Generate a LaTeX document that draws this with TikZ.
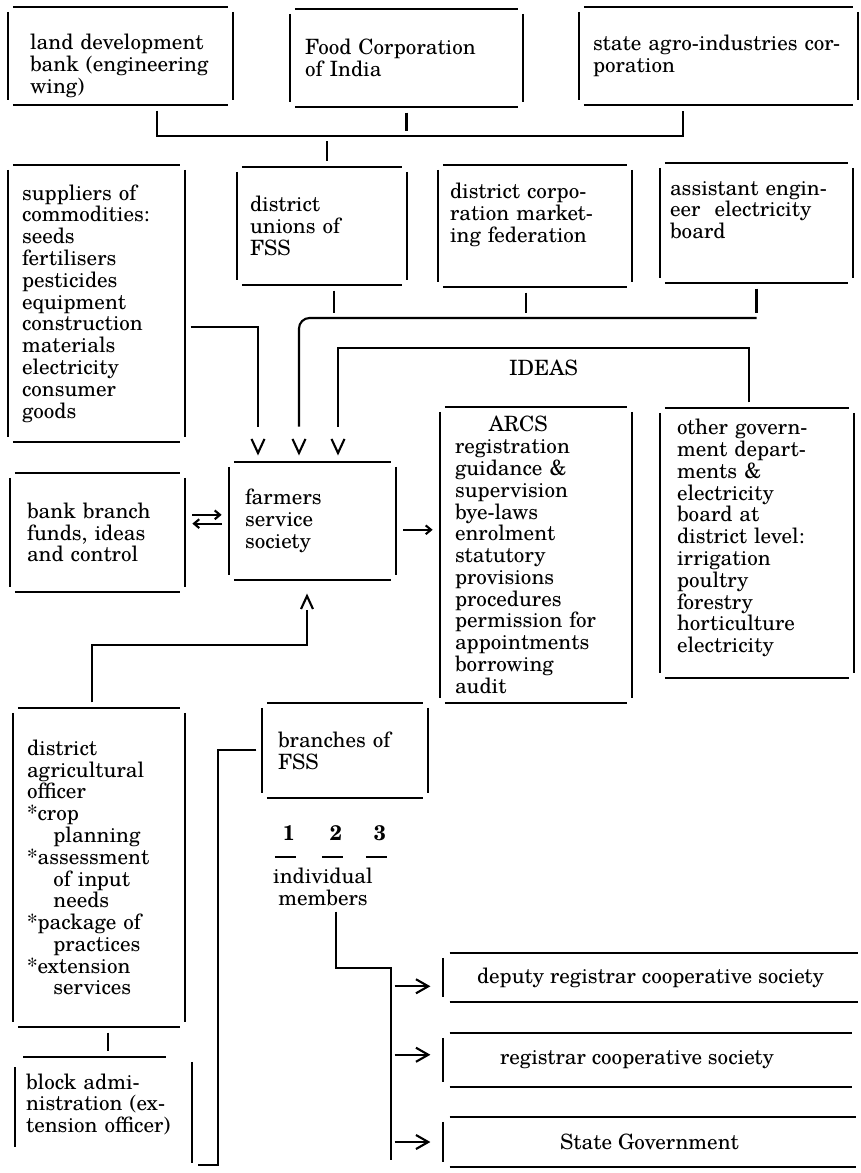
\documentclass[tikz,border=0pt]{standalone}
\usepackage{fontspec}
\setmainfont{texgyreschola}[Extension=.otf, UprightFont=*-regular, BoldFont=*-bold, ItalicFont=*-italic, BoldItalicFont=*-bolditalic]
\usepackage{tikz}
\usetikzlibrary{arrows.meta,positioning}
\hyphenpenalty=10000
\exhyphenpenalty=10000
\newcommand{\boxfont}{\fontsize{12}{12.4}\selectfont}
% four sides of a box, the corners left open
\newcommand{\boxsides}[1]{%
  \draw[heavy] ([xshift=3pt]#1.north west) -- ([xshift=-3pt]#1.north east);
  \draw[heavy] ([xshift=3pt]#1.south west) -- ([xshift=-3pt]#1.south east);
  \draw[heavy] ([yshift=-3pt]#1.north west) -- ([yshift=3pt]#1.south west);
  \draw[heavy] ([yshift=-3pt]#1.north east) -- ([yshift=3pt]#1.south east);}
\newcommand{\openright}[1]{%
  \draw[heavy] ([xshift=4pt]#1.north west) -- (#1.north east);
  \draw[heavy] ([xshift=4pt]#1.south west) -- (#1.south east);
  \draw[heavy] ([yshift=-3pt]#1.north west) -- ([yshift=3pt]#1.south west);}

\begin{document}
\begin{tikzpicture}[x=0.02cm, y=-0.02cm,
  heavy/.style={line width=1.2pt},
  link/.style={heavy, shorten <=3pt, shorten >=3pt},
  arrowln/.style={heavy, shorten <=2pt, shorten >=7pt, -{Straight Barb[length=7pt,width=8pt]}},
  sarrow/.style={heavy, shorten <=4pt, shorten >=4pt, -{Straight Barb[length=3pt,width=5pt]}},
  box/.style={inner sep=0pt, align=left, font=\boxfont},
  cbox/.style={inner sep=0pt, align=center, font=\boxfont},
  num/.style={inner sep=0pt, anchor=base, font=\boxfont\bfseries}]
\useasboundingbox (0,0) rectangle (860,1173);

% top row
\node[box, minimum width=4.5cm, minimum height=1.96cm, text width=3.62cm] (landbank) at (120.5,56) {\rule{0pt}{20pt}land development\\bank (engineering\\wing)};
\node[box, minimum width=4.66cm, minimum height=1.96cm, text width=4.06cm] (food) at (406.5,58) {Food Corporation\\of India};
\node[box, minimum width=5.58cm, minimum height=1.96cm, text width=5.02cm] (state) at (718.5,56) {state agro-industries cor-\\poration};

% second row
\node[box, minimum width=3.54cm, minimum height=5.54cm, text width=2.98cm] (suppliers) at (96.5,303.5) {suppliers of\\commodities:\\seeds\\fertilisers\\pesticides\\equipment\\construction\\materials\\electricity\\consumer\\goods};
\node[box, minimum width=3.4cm, minimum height=2.36cm, text width=2.88cm] (unions) at (322,226) {district\\unions of\\FSS};
\node[box, minimum width=3.88cm, minimum height=2.44cm, text width=3.4cm] (market) at (535,226) {district corpo-\\ration market-\\ing federation\rule[-15pt]{0pt}{15pt}};
\node[box, minimum width=3.86cm, minimum height=2.4cm, text width=3.46cm] (engineer) at (756.5,223) {assistant engin-\\eer \ electricity\\board\rule[-15pt]{0pt}{15pt}};

% middle row
\node[box, minimum width=3.5cm, minimum height=2.38cm, text width=2.82cm] (bank) at (97.5,532.5) {bank branch\\funds, ideas\\and control};
\node[box, minimum width=3.34cm, minimum height=2.36cm, text width=2.7cm] (farmers) at (312.5,521) {farmers\\service\\society};
\node[box, minimum width=3.84cm, minimum height=5.92cm, text width=3.24cm] (arcs) at (536,555) {\hspace*{1.6em}ARCS\\registration\\guidance \&\\supervision\\bye-laws\\enrolment\\statutory\\provisions\\procedures\\permission for\\appointments\\borrowing\\audit};
\node[box, minimum width=3.88cm, minimum height=5.4cm, text width=3.2cm] (govt) at (757,543) {other govern-\\ment depart-\\ments \&\\electricity\\board at\\district level:\\irrigation\\poultry\\forestry\\horticulture\\electricity\rule[-8pt]{0pt}{8pt}};

% lower part
\node[box, minimum width=3.32cm, minimum height=1.9cm, text width=2.68cm] (branches) at (345,750.5) {branches of\\FSS};
\node[box, minimum width=3.44cm, minimum height=6.38cm, text width=2.88cm] (agri) at (99,867.5) {district\\agricultural\\officer\\{}*crop\\\hspace*{1.25em}planning\\{}*assessment\\\hspace*{1.25em}of input\\\hspace*{1.25em}needs\\{}*package of\\\hspace*{1.25em}practices\\{}*extension\\\hspace*{1.25em}services};
\node[box, minimum width=3.54cm, minimum height=1.9cm, text width=3.1cm] (block) at (103.5,1104.5) {block admi-\\nistration (ex-\\tension officer)};
\node[num] (one) at (289,840) {1};
\node[num] (two) at (336,840) {2};
\node[num] (three) at (380,840) {3};
\node[cbox, anchor=north] (members) at (323,868) {individual\\members};
\node[cbox, minimum width=8.3cm, minimum height=0.98cm] (deputy) at (650.5,977.5) {deputy registrar cooperative society};
\node[cbox, minimum width=8.18cm, minimum height=1.08cm] (registrar) at (647.5,1060) {registrar cooperative society\hspace*{1em}};
\node[cbox, minimum width=8.26cm, minimum height=1cm] (stategov) at (649.5,1142) {State Government};

% frames
\foreach \b in {landbank,food,state,suppliers,unions,market,engineer,bank,farmers,arcs,govt,branches,agri}
  \boxsides{\b};
\foreach \b in {deputy,registrar,stategov}
  \openright{\b};
\draw[heavy] ([xshift=5pt]block.north west) -- ([xshift=-15pt]block.north east);
\draw[heavy] ([yshift=-6pt]block.north west) -- ([yshift=3pt]block.south west);
\draw[heavy] ([yshift=-3pt]block.north east) -- ([yshift=-6pt]block.south east);
\foreach \n in {one,two,three}
  \draw[heavy] ([shift={(-8pt,-9.6pt)}]\n.base) -- ([shift={(4pt,-9.6pt)}]\n.base);

% junction points
\coordinate (topbusW) at (157,136);
\coordinate (topbusE) at (683,136);
\coordinate (midbus) at (0,318);
\coordinate (supjoin) at (258,327);
\coordinate (ideasR) at (749,348);
\coordinate (ideasL) at (338,348);
\coordinate (vA) at (258,432);
\coordinate (vB) at (299,432);
\coordinate (vC) at (338,432);
\coordinate (tipA) at (258,453);
\coordinate (tipB) at (299,453);
\coordinate (tipC) at (338,453);
\coordinate (tipU) at (307,596);
\coordinate (upend) at (307,610);
\coordinate (agrijoin) at (92,645);
\coordinate (spineT) at (218,750);
\coordinate (spineB) at (218,1165);
\coordinate (memjoin) at (336,968);
\coordinate (fanT) at (391,968);
\coordinate (fanB) at (391,1165);

% top bus
\draw[link] (topbusW |- landbank.south) -- (topbusW) -- (topbusE) -- (topbusE |- state.south);
\draw[link] (food.south) -- (food.south |- topbusW);
\draw[link] ([xshift=3pt]unions.north |- topbusW) -- ([xshift=3pt]unions.north);

% into the farmers service society
\draw[link] (supjoin -| suppliers.east) -- (supjoin) -- (vA);
\draw[link] (engineer.south) -- (engineer.south |- midbus);
\draw[link] ([xshift=-5pt]market.south) -- ([xshift=-5pt]market.south |- midbus);
\draw[link] ([xshift=7pt]unions.south) -- ([xshift=7pt]unions.south |- midbus);
\draw[heavy, rounded corners=6pt, shorten >=3pt] (engineer.south |- midbus) -- (vB |- midbus) -- (vB);
\draw[link] (govt.north -| ideasR) -- (ideasR) -- node[box, below=6pt] (ideas) {IDEAS} (ideasL) -- (vC);
\foreach \t in {tipA,tipB,tipC}
  \draw[heavy] (\t) ++(-3.7pt,8pt) -- ++(3.7pt,-8pt) -- ++(3.7pt,8pt);

% sideways
\draw[sarrow] ([yshift=3.5pt]farmers.west -| bank.east) -- ([yshift=3.5pt]farmers.west);
\draw[sarrow] ([yshift=-1.5pt]farmers.west) -- ([yshift=-1.5pt]farmers.west -| bank.east);
\draw[sarrow] ([yshift=-5pt]farmers.east) -- ([yshift=-5pt]farmers.east -| arcs.west);

% from below
\draw[link, shorten >=0pt] (agri.north -| agrijoin) -- (agrijoin) -- (agrijoin -| upend) -- (upend);
\draw[heavy] (tipU) ++(-3.4pt,-7.4pt) -- ++(3.4pt,7.4pt) -- ++(3.4pt,-7.4pt);
\draw[link] ([xshift=5pt]agri.south) -- ([xshift=5pt]agri.south |- block.north);
\draw[link] (branches.west |- spineT) -- (spineT) -- (spineB) -- (spineB -| block.east);

% members to the registrars
\draw[link] (members.south -| memjoin) -- (memjoin) -- (fanT) -- (fanB);
\draw[arrowln] ([yshift=-5pt]deputy.west -| fanT) -- ([yshift=-5pt]deputy.west);
\draw[arrowln] ([yshift=3pt]registrar.west -| fanT) -- ([yshift=3pt]registrar.west);
\draw[arrowln] (stategov.west -| fanT) -- (stategov.west);
\end{tikzpicture}
\end{document}
